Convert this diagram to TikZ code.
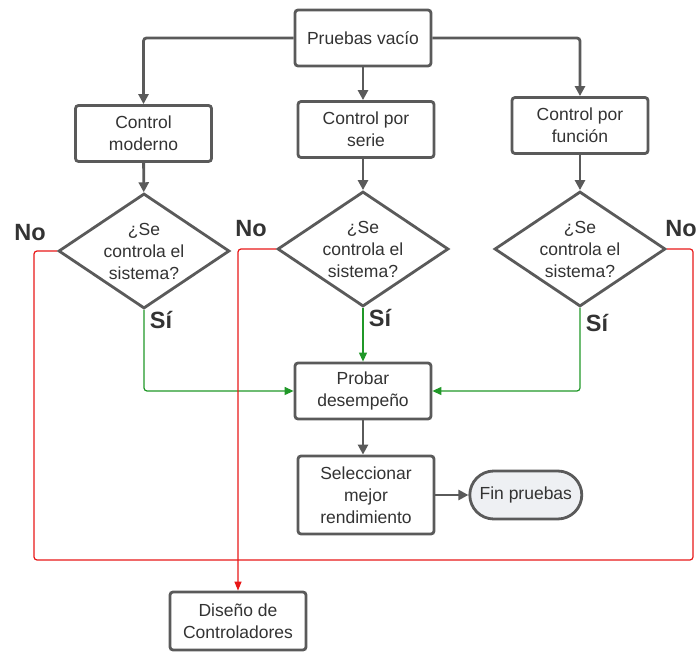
\documentclass[tikz,border=0pt]{standalone}
\usepackage{fontspec}
\setmainfont{Liberation Sans}
\usetikzlibrary{arrows.meta,positioning,shapes.geometric}
\usepackage{xcolor}
\definecolor{BoxGray}{RGB}{90,90,90}
\definecolor{TextGray}{RGB}{51,51,51}
\definecolor{FinFill}{RGB}{238,240,243}
\definecolor{NoRed}{RGB}{232,24,24}
\definecolor{YesGreen}{RGB}{32,152,40}
\tikzset{
  process/.style={draw=BoxGray, rounded corners=3pt, fill=white,
    line width=2.8pt, minimum width=136pt, minimum height=56pt,
    align=center, text=TextGray, font=\fontsize{17.5}{22}\selectfont},
  decision/.style={diamond, draw=BoxGray, fill=white, line width=2.8pt,
    aspect=1.48, inner sep=0pt, minimum width=171pt, minimum height=115pt,
    align=center, text=TextGray, font=\fontsize{17.5}{22}\selectfont},
  terminal/.style={draw=BoxGray, rounded corners=24pt, fill=FinFill,
    line width=2.8pt, minimum width=112pt, minimum height=48pt,
    align=center, text=TextGray, font=\fontsize{17.5}{22}\selectfont},
  answer/.style={text=TextGray, font=\bfseries\fontsize{23.5}{26}\selectfont},
  arrow/.style={-{Triangle[length=10pt,width=10pt]}, line width=2.8pt,
    BoxGray, rounded corners=3pt},
  yes/.style={-{Triangle[length=9pt,width=8pt]}, line width=1.2pt,
    YesGreen, rounded corners=3pt},
  no/.style={line width=1.2pt, NoRed, rounded corners=3pt}
}

\begin{document}
\begin{tikzpicture}[x=1pt,y=-1pt]
  \useasboundingbox (0,0) rectangle (697,652);
  \node[process] (vacio) at (363,38) {Pruebas vacío};
  \node[process] (moderno) at (143.5,133.5) {Control\\moderno};
  \node[process] (serie) at (366,129.5) {Control por\\serie};
  \node[process] (funcion) at (580,125.5) {Control por\\función};
  \node[decision] (checkmod) at (144,251) {¿Se\\controla el\\sistema?};
  \node[decision] (checkser) at (363,249) {¿Se\\controla el\\sistema?};
  \node[decision] (checkfun) at (580,249) {¿Se\\controla el\\sistema?};
  \node[process] (probar) at (363,391) {Probar\\desempeño};
  \node[process,minimum height=78pt] (seleccionar) at (366,495) {Seleccionar\\mejor\\rendimiento};
  \node[terminal,right=33pt of seleccionar] (fin) {Fin pruebas};
  \node[process,minimum height=58pt] (diseno) at (238,621) {Diseño de\\Controladores};
  % etiquetas
  \node[answer] (nomod) at (30,233) {No};
  \node[answer] (noser) at (251,229) {No};
  \node[answer] (nofun) at (681,229) {No};
  \node[answer] (simod) at (161,320) {Sí};
  \node[answer] (siser) at (380,318) {Sí};
  \node[answer] (sifun) at (597,323) {Sí};
  \coordinate (loopsw) at (34,560);
  \coordinate (loopse) at (693,560);
  % flujo principal
  \draw[arrow] (vacio.west) -| (moderno.north);
  \draw[arrow] (vacio.east) -| (funcion.north);
  \draw[arrow] (vacio.south) -- (vacio.south |- serie.north);
  \draw[arrow] (moderno) -- (checkmod);
  \draw[arrow] (checkser.north |- serie.south) -- (checkser.north);
  \draw[arrow] (funcion) -- (checkfun);
  \draw[arrow] (probar.south) -- (probar.south |- seleccionar.north);
  \draw[arrow] (seleccionar) -- (fin);
  % respuestas
  \draw[yes] (checkmod.south) |- (probar.west);
  \draw[yes] (checkser.south) -- (probar.north);
  \draw[yes] (checkfun.south) |- (probar.east);
  \draw[no] (checkmod.west) -| (loopsw) -- (loopse) |- (checkfun.east);
  \draw[no,-{Triangle[length=9pt,width=7pt]}] (checkser.west) -| (diseno.north);
\end{tikzpicture}
\end{document}
